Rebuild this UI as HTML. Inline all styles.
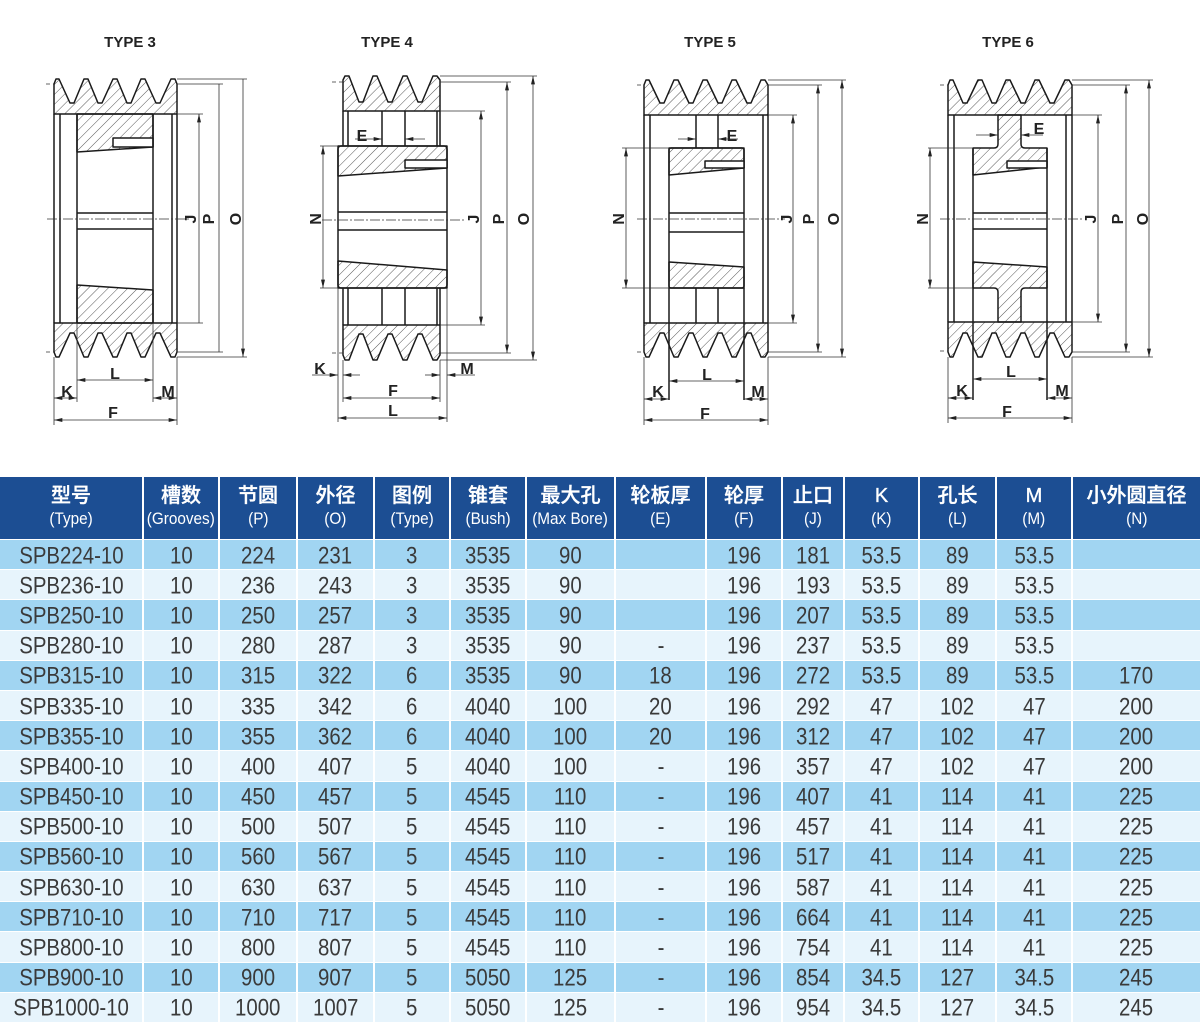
<!DOCTYPE html>
<html><head><meta charset="utf-8">
<style>
html,body{margin:0;padding:0;background:#fff}
body{width:1200px;height:1026px;position:relative;overflow:hidden;font-family:"Liberation Sans","Noto Sans CJK SC",sans-serif}
svg{position:absolute;left:0;top:0}
#t{position:absolute;left:0;top:477px;width:1200px;display:grid;grid-template-columns:144px 76px 78px 77px 76px 76px 89px 91px 76px 62px 75px 77px 76px 127px;grid-template-rows:63px repeat(16,30.2px)}
.r{display:contents}
.r>div{box-sizing:border-box;border-right:2px solid #fff;border-bottom:1.5px solid #fff;display:flex;align-items:center;justify-content:center;white-space:nowrap}
.r>div:last-child{border-right:0}
.h>div{background:#1c4e93;color:#fff;flex-direction:column;justify-content:flex-start}
.h b{display:block;font-weight:500;font-size:20px;line-height:24px;margin-top:7px;font-family:"Liberation Sans","Noto Sans CJK SC",sans-serif;-webkit-text-stroke:0.35px #fff}
.h i{display:block;font-style:normal;font-size:17px;line-height:22px;transform:scaleX(.9)}
.a>div{background:#a1d5f2}
.b>div{background:#e7f4fc}
.a span,.b span{display:inline-block;font-size:24px;line-height:1;color:#3a3a3a;transform:translateY(1.5px) scaleX(.85)}
</style></head><body>
<svg width="1200" height="470" viewBox="0 0 1200 470">
<defs>
<pattern id="h" width="7" height="7" patternUnits="userSpaceOnUse" patternTransform="rotate(45)"><line x1="0" y1="0" x2="0" y2="7" stroke="#444" stroke-width="0.9"/></pattern>
<marker id="ar" viewBox="0 0 10 6" refX="10" refY="3" markerWidth="9" markerHeight="5" markerUnits="userSpaceOnUse" orient="auto-start-reverse"><path d="M0,0.6 L10,3 L0,5.4 Z" fill="#222"/></marker>
</defs>

<g font-family="Liberation Sans, sans-serif" font-weight="bold" font-size="15" fill="#222" text-anchor="middle">
<text x="130" y="47">TYPE 3</text>
<text x="387" y="47">TYPE 4</text>
<text x="710" y="47">TYPE 5</text>
<text x="1008" y="47">TYPE 6</text>
</g>

<!-- ============ TYPE 3 ============ -->
<g stroke="#1a1a1a" stroke-width="1.5" fill="none" stroke-linejoin="round">
<path fill="url(#h)" d="M54,84 L56,79 L59,79 L70,103 L74,103 L84,79 L88,79 L98,103 L102,103 L113,79 L117,79 L127,103 L131,103 L141,79 L145,79 L156,103 L160,103 L171,79 L175,79 L177,84 L177,114 L54,114 Z"/>
<path fill="url(#h)" d="M77,114 L153,114 L153,147 L77,152 Z"/>
<rect x="113" y="138" width="40" height="9" fill="#fff"/>
<path d="M54,114 V323 M60,114 V323 M77,114 V323 M153,114 V323 M172,114 V323 M177,114 V323"/>
<path d="M77,213 H153 M77,229 H153"/>
<path fill="url(#h)" d="M77,285 L153,290 L153,323 L77,323 Z"/>
<path fill="url(#h)" d="M54,323 L177,323 L177,352 L175,357 L171,357 L160,333 L156,333 L145,357 L141,357 L131,333 L127,333 L117,357 L113,357 L102,333 L98,333 L88,357 L84,357 L74,333 L70,333 L59,357 L56,357 L54,352 Z"/>
</g>
<g stroke="#333" stroke-width=".8" fill="none">
<path stroke-dasharray="10,2,2,2" d="M47,219 H190"/>
<path stroke-dasharray="4,3" d="M46,84 H54 M46,352 H54"/>
<path d="M177,114 H203 M177,323 H203 M177,84 H223 M177,352 H223 M177,79 H247 M177,357 H247 M54,357 V425 M177,357 V425 M77,323 V402 M153,323 V402"/>
<g marker-start="url(#ar)" marker-end="url(#ar)">
<path d="M199,114 V323 M219,84 V352 M243,79 V357"/>
<path d="M77,380 H153"/><path d="M54,398 H77"/><path d="M153,398 H177"/><path d="M54,420 H177"/>
</g>
</g>

<!-- ============ TYPE 4 ============ -->
<g stroke="#1a1a1a" stroke-width="1.5" fill="none" stroke-linejoin="round">
<path fill="url(#h)" d="M343,80 L345,76 L349,76 L359,102 L363,102 L373,76 L377,76 L388,102 L392,102 L403,76 L407,76 L418,102 L422,102 L433,76 L437,76 L440,80 L440,111 L343,111 Z"/>
<path d="M343,111 V146 M348,111 V146 M382,111 V146 M405,111 V146 M437,111 V146 M440,111 V146"/>
<rect x="338" y="146" width="109" height="142" rx="3"/>
<path fill="url(#h)" d="M338,146 H447 V168 L338,176 Z"/>
<rect x="405" y="160" width="42" height="8" fill="#fff"/>
<path d="M338,212 H447 M338,230 H447"/>
<path fill="url(#h)" d="M338,261 L447,270 V288 H338 Z"/>
<path d="M343,288 V325 M348,288 V325 M382,288 V325 M405,288 V325 M437,288 V325 M440,288 V325"/>
<path fill="url(#h)" d="M343,325 H440 V355 L437,360 L433,360 L422,334 L418,334 L407,360 L403,360 L392,334 L388,334 L377,360 L373,360 L363,334 L359,334 L349,360 L345,360 L343,355 Z"/>
</g>
<g stroke="#333" stroke-width=".8" fill="none">
<path stroke-dasharray="10,2,2,2" d="M322,220 H465"/>
<path stroke-dasharray="4,3" d="M332,82 H343 M332,353 H343"/>
<path d="M440,111 H485 M440,325 H485 M440,82 H511 M440,353 H511 M440,76 H537 M440,360 H537 M320,146 H338 M320,288 H338 M343,360 V402 M440,360 V402 M338,288 V422 M447,288 V422"/>
<g marker-start="url(#ar)" marker-end="url(#ar)">
<path d="M323,146 V288"/><path d="M481,111 V325"/><path d="M507,82 V353"/><path d="M533,76 V360"/>
<path d="M343,398 H440"/><path d="M338,418 H447"/>
</g>
<g marker-end="url(#ar)">
<path d="M355,139 H382"/><path d="M425,139 H405"/>
<path d="M312,375 H338"/><path d="M360,375 H343"/>
<path d="M475,375 H447"/><path d="M425,375 H440"/>
</g>
</g>

<!-- ============ TYPE 5 ============ -->
<g stroke="#1a1a1a" stroke-width="1.5" fill="none" stroke-linejoin="round">
<path fill="url(#h)" d="M644,85 L646,80 L649,80 L660,103 L664,103 L674,80 L678,80 L689,103 L693,103 L703,80 L707,80 L718,103 L722,103 L732,80 L736,80 L747,103 L751,103 L761,80 L765,80 L768,85 L768,115 L644,115 Z"/>
<path d="M644,115 V323 M650,115 V323 M763,115 V323 M768,115 V323 M696,115 V148 M718,115 V148"/>
<rect x="669" y="148" width="75" height="140" rx="2"/>
<path fill="url(#h)" d="M669,148 H744 V168 L669,175 Z"/>
<rect x="705" y="161" width="39" height="7" fill="#fff"/>
<path d="M669,213 H744 M669,232 H744"/>
<path fill="url(#h)" d="M669,262 L744,267 V288 H669 Z"/>
<path d="M696,288 V323 M718,288 V323"/>
<path fill="url(#h)" d="M644,323 H768 V352 L765,357 L761,357 L751,333 L747,333 L736,357 L732,357 L722,333 L718,333 L707,357 L703,357 L693,333 L689,333 L678,357 L674,357 L664,333 L660,333 L649,357 L646,357 L644,352 Z"/>
<path d="M669,288 V400 M744,288 V400"/>
</g>
<g stroke="#333" stroke-width=".8" fill="none">
<path stroke-dasharray="10,2,2,2" d="M637,219 H785"/>
<path stroke-dasharray="4,3" d="M637,85 H644 M637,352 H644"/>
<path d="M768,115 H797 M768,323 H797 M768,85 H822 M768,352 H822 M768,80 H846 M768,357 H846 M622,148 H669 M622,288 H669 M644,357 V425 M768,357 V425"/>
<g marker-start="url(#ar)" marker-end="url(#ar)">
<path d="M626,148 V288"/><path d="M793,115 V323"/><path d="M818,85 V352"/><path d="M842,80 V357"/>
<path d="M669,381 H744"/><path d="M644,399 H669"/><path d="M744,399 H768"/><path d="M644,420 H768"/>
</g>
<g marker-end="url(#ar)">
<path d="M678,139 H696"/><path d="M738,139 H718"/>
</g>
</g>

<!-- ============ TYPE 6 ============ -->
<g stroke="#1a1a1a" stroke-width="1.5" fill="none" stroke-linejoin="round">
<path fill="url(#h)" d="M948,85 L950,80 L953,80 L963,103 L967,103 L978,80 L982,80 L992,103 L996,103 L1006,80 L1010,80 L1021,103 L1025,103 L1035,80 L1039,80 L1050,103 L1054,103 L1065,80 L1069,80 L1072,85 L1072,115 L948,115 Z"/>
<path fill="url(#h)" d="M998,115 L1021,115 L1021,144 Q1021,148 1025,148 L1047,148 L1047,167 L973,175 L973,148 L994,148 Q998,148 998,144 Z"/>
<rect x="1007" y="161" width="40" height="7" fill="#fff"/>
<path d="M948,115 V322 M954,115 V322 M1066,115 V322 M1072,115 V322 M973,148 V400 M1047,148 V400"/>
<path d="M973,213 H1047 M973,229 H1047"/>
<path fill="url(#h)" d="M973,262 L1047,267 L1047,288 L1025,288 Q1021,288 1021,292 L1021,322 L998,322 L998,292 Q998,288 994,288 L973,288 Z"/>
<path fill="url(#h)" d="M948,322 H1072 V352 L1069,357 L1065,357 L1054,333 L1050,333 L1039,357 L1035,357 L1025,333 L1021,333 L1010,357 L1006,357 L996,333 L992,333 L982,357 L978,357 L967,333 L963,333 L953,357 L950,357 L948,352 Z"/>
</g>
<g stroke="#333" stroke-width=".8" fill="none">
<path stroke-dasharray="10,2,2,2" d="M940,219 H1082"/>
<path stroke-dasharray="4,3" d="M940,85 H948 M940,351 H948"/>
<path d="M1072,115 H1102 M1072,322 H1102 M1072,85 H1130 M1072,352 H1130 M1072,80 H1153 M1072,357 H1153 M928,148 H973 M928,288 H973 M948,357 V423 M1072,357 V423"/>
<g marker-start="url(#ar)" marker-end="url(#ar)">
<path d="M930,148 V288"/><path d="M1098,115 V322"/><path d="M1126,85 V352"/><path d="M1149,80 V357"/>
<path d="M973,379 H1047"/><path d="M948,398 H973"/><path d="M1047,398 H1072"/><path d="M948,418 H1072"/>
</g>
<g marker-end="url(#ar)">
<path d="M976,135 H998"/><path d="M1043,135 H1021"/>
</g>
</g>

<!-- labels -->
<g font-family="Liberation Sans, sans-serif" font-weight="bold" font-size="16" fill="#222" text-anchor="middle">
<text transform="translate(190,219) rotate(-90)" dy="6">J</text>
<text transform="translate(208,219) rotate(-90)" dy="6">P</text>
<text transform="translate(235,219) rotate(-90)" dy="6">O</text>
<text x="115" y="379">L</text><text x="67" y="397">K</text><text x="168" y="397">M</text><text x="113" y="418">F</text>

<text transform="translate(315,219) rotate(-90)" dy="6">N</text>
<text transform="translate(473,219) rotate(-90)" dy="6">J</text>
<text transform="translate(498,219) rotate(-90)" dy="6">P</text>
<text transform="translate(523,219) rotate(-90)" dy="6">O</text>
<text x="362" y="141">E</text><text x="320" y="374">K</text><text x="467" y="374">M</text><text x="393" y="396">F</text><text x="393" y="416">L</text>

<text transform="translate(618,219) rotate(-90)" dy="6">N</text>
<text transform="translate(786,219) rotate(-90)" dy="6">J</text>
<text transform="translate(808,219) rotate(-90)" dy="6">P</text>
<text transform="translate(833,219) rotate(-90)" dy="6">O</text>
<text x="732" y="141">E</text><text x="707" y="380">L</text><text x="658" y="397">K</text><text x="758" y="397">M</text><text x="705" y="419">F</text>

<text transform="translate(922,219) rotate(-90)" dy="6">N</text>
<text transform="translate(1090,219) rotate(-90)" dy="6">J</text>
<text transform="translate(1117,219) rotate(-90)" dy="6">P</text>
<text transform="translate(1142,219) rotate(-90)" dy="6">O</text>
<text x="1039" y="134">E</text><text x="1011" y="377">L</text><text x="962" y="396">K</text><text x="1062" y="396">M</text><text x="1007" y="417">F</text>
</g>
</svg>

<div id="t">
<div class="r h">
<div><b>型号</b><i>(Type)</i></div>
<div><b>槽数</b><i>(Grooves)</i></div>
<div><b>节圆</b><i>(P)</i></div>
<div><b>外径</b><i>(O)</i></div>
<div><b>图例</b><i>(Type)</i></div>
<div><b>锥套</b><i>(Bush)</i></div>
<div><b>最大孔</b><i>(Max Bore)</i></div>
<div><b>轮板厚</b><i>(E)</i></div>
<div><b>轮厚</b><i>(F)</i></div>
<div><b>止口</b><i>(J)</i></div>
<div><b>K</b><i>(K)</i></div>
<div><b>孔长</b><i>(L)</i></div>
<div><b>M</b><i>(M)</i></div>
<div><b>小外圆直径</b><i>(N)</i></div>
</div>
<div class="r a"><div><span>SPB224-10</span></div><div><span>10</span></div><div><span>224</span></div><div><span>231</span></div><div><span>3</span></div><div><span>3535</span></div><div><span>90</span></div><div></div><div><span>196</span></div><div><span>181</span></div><div><span>53.5</span></div><div><span>89</span></div><div><span>53.5</span></div><div></div></div>
<div class="r b"><div><span>SPB236-10</span></div><div><span>10</span></div><div><span>236</span></div><div><span>243</span></div><div><span>3</span></div><div><span>3535</span></div><div><span>90</span></div><div></div><div><span>196</span></div><div><span>193</span></div><div><span>53.5</span></div><div><span>89</span></div><div><span>53.5</span></div><div></div></div>
<div class="r a"><div><span>SPB250-10</span></div><div><span>10</span></div><div><span>250</span></div><div><span>257</span></div><div><span>3</span></div><div><span>3535</span></div><div><span>90</span></div><div></div><div><span>196</span></div><div><span>207</span></div><div><span>53.5</span></div><div><span>89</span></div><div><span>53.5</span></div><div></div></div>
<div class="r b"><div><span>SPB280-10</span></div><div><span>10</span></div><div><span>280</span></div><div><span>287</span></div><div><span>3</span></div><div><span>3535</span></div><div><span>90</span></div><div><span>-</span></div><div><span>196</span></div><div><span>237</span></div><div><span>53.5</span></div><div><span>89</span></div><div><span>53.5</span></div><div></div></div>
<div class="r a"><div><span>SPB315-10</span></div><div><span>10</span></div><div><span>315</span></div><div><span>322</span></div><div><span>6</span></div><div><span>3535</span></div><div><span>90</span></div><div><span>18</span></div><div><span>196</span></div><div><span>272</span></div><div><span>53.5</span></div><div><span>89</span></div><div><span>53.5</span></div><div><span>170</span></div></div>
<div class="r b"><div><span>SPB335-10</span></div><div><span>10</span></div><div><span>335</span></div><div><span>342</span></div><div><span>6</span></div><div><span>4040</span></div><div><span>100</span></div><div><span>20</span></div><div><span>196</span></div><div><span>292</span></div><div><span>47</span></div><div><span>102</span></div><div><span>47</span></div><div><span>200</span></div></div>
<div class="r a"><div><span>SPB355-10</span></div><div><span>10</span></div><div><span>355</span></div><div><span>362</span></div><div><span>6</span></div><div><span>4040</span></div><div><span>100</span></div><div><span>20</span></div><div><span>196</span></div><div><span>312</span></div><div><span>47</span></div><div><span>102</span></div><div><span>47</span></div><div><span>200</span></div></div>
<div class="r b"><div><span>SPB400-10</span></div><div><span>10</span></div><div><span>400</span></div><div><span>407</span></div><div><span>5</span></div><div><span>4040</span></div><div><span>100</span></div><div><span>-</span></div><div><span>196</span></div><div><span>357</span></div><div><span>47</span></div><div><span>102</span></div><div><span>47</span></div><div><span>200</span></div></div>
<div class="r a"><div><span>SPB450-10</span></div><div><span>10</span></div><div><span>450</span></div><div><span>457</span></div><div><span>5</span></div><div><span>4545</span></div><div><span>110</span></div><div><span>-</span></div><div><span>196</span></div><div><span>407</span></div><div><span>41</span></div><div><span>114</span></div><div><span>41</span></div><div><span>225</span></div></div>
<div class="r b"><div><span>SPB500-10</span></div><div><span>10</span></div><div><span>500</span></div><div><span>507</span></div><div><span>5</span></div><div><span>4545</span></div><div><span>110</span></div><div><span>-</span></div><div><span>196</span></div><div><span>457</span></div><div><span>41</span></div><div><span>114</span></div><div><span>41</span></div><div><span>225</span></div></div>
<div class="r a"><div><span>SPB560-10</span></div><div><span>10</span></div><div><span>560</span></div><div><span>567</span></div><div><span>5</span></div><div><span>4545</span></div><div><span>110</span></div><div><span>-</span></div><div><span>196</span></div><div><span>517</span></div><div><span>41</span></div><div><span>114</span></div><div><span>41</span></div><div><span>225</span></div></div>
<div class="r b"><div><span>SPB630-10</span></div><div><span>10</span></div><div><span>630</span></div><div><span>637</span></div><div><span>5</span></div><div><span>4545</span></div><div><span>110</span></div><div><span>-</span></div><div><span>196</span></div><div><span>587</span></div><div><span>41</span></div><div><span>114</span></div><div><span>41</span></div><div><span>225</span></div></div>
<div class="r a"><div><span>SPB710-10</span></div><div><span>10</span></div><div><span>710</span></div><div><span>717</span></div><div><span>5</span></div><div><span>4545</span></div><div><span>110</span></div><div><span>-</span></div><div><span>196</span></div><div><span>664</span></div><div><span>41</span></div><div><span>114</span></div><div><span>41</span></div><div><span>225</span></div></div>
<div class="r b"><div><span>SPB800-10</span></div><div><span>10</span></div><div><span>800</span></div><div><span>807</span></div><div><span>5</span></div><div><span>4545</span></div><div><span>110</span></div><div><span>-</span></div><div><span>196</span></div><div><span>754</span></div><div><span>41</span></div><div><span>114</span></div><div><span>41</span></div><div><span>225</span></div></div>
<div class="r a"><div><span>SPB900-10</span></div><div><span>10</span></div><div><span>900</span></div><div><span>907</span></div><div><span>5</span></div><div><span>5050</span></div><div><span>125</span></div><div><span>-</span></div><div><span>196</span></div><div><span>854</span></div><div><span>34.5</span></div><div><span>127</span></div><div><span>34.5</span></div><div><span>245</span></div></div>
<div class="r b"><div><span>SPB1000-10</span></div><div><span>10</span></div><div><span>1000</span></div><div><span>1007</span></div><div><span>5</span></div><div><span>5050</span></div><div><span>125</span></div><div><span>-</span></div><div><span>196</span></div><div><span>954</span></div><div><span>34.5</span></div><div><span>127</span></div><div><span>34.5</span></div><div><span>245</span></div></div>
</div>
</body></html>
